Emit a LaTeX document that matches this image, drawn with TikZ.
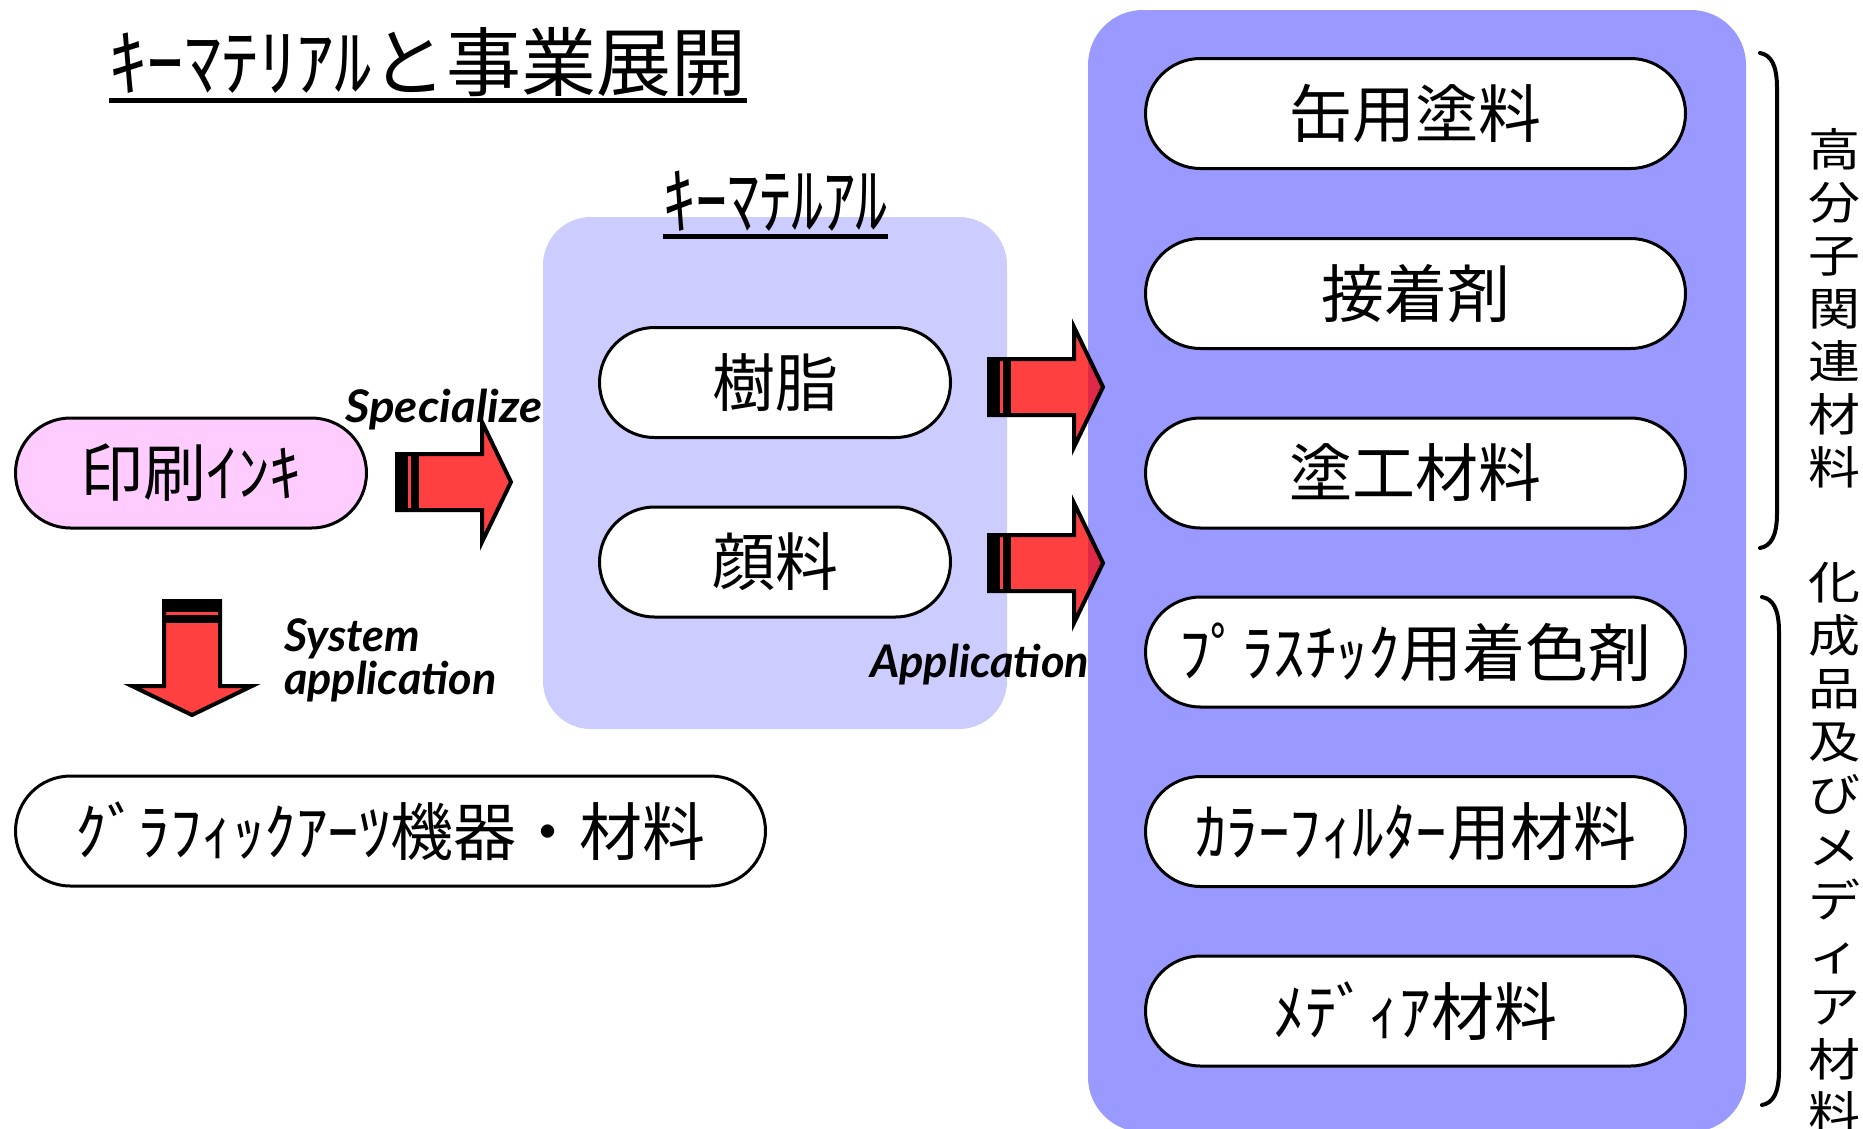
\documentclass[tikz,border=0pt]{standalone}
\usepackage{graphicx}
\usepackage{fontspec}
\newfontfamily\jp{Noto Sans CJK JP}
\newfontfamily\lat{Lato}
\definecolor{boxdark}{RGB}{153,153,255}
\definecolor{boxlight}{RGB}{204,204,255}
\definecolor{inkpink}{RGB}{255,204,255}
\definecolor{arrred}{RGB}{255,64,64}
\definecolor{arrdeep}{RGB}{224,40,72}
\newcommand\vsq[1]{\scalebox{1}[0.87]{#1}}
\tikzset{
  pill/.style={draw, line width=3pt, fill=white, rounded corners=55pt,
    minimum height=110pt, inner sep=0pt, font=\jp\fontsize{63}{70}\selectfont},
  heading/.style={inner sep=0pt, font=\jp\fontsize{75}{80}\selectfont},
  tag/.style={inner sep=0pt, font=\lat\bfseries\itshape\fontsize{45}{50}\selectfont},
  vtext/.style={inner sep=0pt, align=center, font=\jp\fontsize{52}{53}\selectfont},
  arrshape/.style={insert path={(0,-28) -- (85,-28) -- (85,-60) -- (114,0) -- (85,60) -- (85,28) -- (0,28) -- cycle}},
  arrline/.style={line width=4pt, line join=miter},
  bracket/.style={line width=4pt, line cap=round},
}
\newcommand\blockarr[1]{%
  \begin{scope}[#1]
    \fill[arrred, arrshape];
    \draw[arrline, arrshape];
    \fill (-2,-30) rectangle (11,30);
    \fill (14,-30) rectangle (22,30);
  \end{scope}}
\newcommand\blockarrdeep[1]{%
  \begin{scope}[#1]
    \fill[arrred, arrshape];
    \begin{scope}
      \clip (99,-80) rectangle (200,80);
      \fill[arrdeep, arrshape];
    \end{scope}
    \draw[arrline, arrshape];
    \fill (-2,-30) rectangle (11,30);
    \fill (14,-30) rectangle (22,30);
  \end{scope}}
\begin{document}
\begin{tikzpicture}[x=1pt, y=-1pt]
\useasboundingbox (0,0) rectangle (1863,1128);
\clip (0,0) rectangle (1863,1128);
\fill[white] (0,0) rectangle (1863,1128);

% background panels
\fill[boxdark, rounded corners=55pt] (1088,10) rectangle (1746,1132);
\fill[boxlight, rounded corners=48pt] (543,217) rectangle (1007,729);

% headings
\node[heading] (title) at (428,62.5) {\resizebox{637pt}{\height}{ｷｰﾏﾃﾘｱﾙと事業展開}};
\draw[line width=5pt] ([yshift=-3pt]title.south west) -- ([yshift=-3pt]title.south east);
\node[heading] (sub) at (775.5,201.5) {\resizebox{225pt}{\height}{ｷｰﾏﾃﾙｱﾙ}};
\draw[line width=5pt] ([yshift=-5pt]sub.south west) -- ([yshift=-5pt]sub.south east);

% block arrows
\blockarr{shift={(397,482)}}
\blockarr{shift={(192,601)}, rotate=-90}
\blockarrdeep{shift={(989,387)}}
\blockarrdeep{shift={(989,563)}}

% left column
\node[pill, fill=inkpink, minimum width=351pt] (ink) at (191,473) {印刷ｲﾝｷ};
\node[pill, minimum width=750pt] (graphic) at (390.5,831) {ｸﾞﾗﾌｨｯｸｱｰﾂ機器・材料};

% key materials
\node[pill, minimum width=351pt] (resin) at (775,382.5) {樹脂};
\node[pill, minimum width=351pt] (pigment) at (775,562) {顔料};

% applications
\node[pill, minimum width=540pt] (p1) at (1415.5,113.5) {缶用塗料};
\node[pill, minimum width=540pt] (p2) at (1415.5,293.5) {接着剤};
\node[pill, minimum width=540pt] (p3) at (1415.5,473) {塗工材料};
\node[pill, minimum width=540pt] (p4) at (1415.5,652) {ﾌﾟﾗｽﾁｯｸ用着色剤};
\node[pill, minimum width=540pt] (p5) at (1415.5,831.5) {ｶﾗｰﾌｨﾙﾀｰ用材料};
\node[pill, minimum width=540pt] (p6) at (1415.5,1011) {ﾒﾃﾞｨｱ材料};

% arrow labels
\node[tag, anchor=base west] (spec) at (345,422) {\resizebox{197pt}{\height}{Specialize}};
\node[tag, anchor=base west] (sys1) at (284,651) {System};
\node[tag, anchor=base west] (sys2) at (284,694) {application};
\node[tag, anchor=base west] (appl) at (870,677) {\resizebox{219pt}{\height}{Application}};

% brackets
\draw[bracket] (1760,53) .. controls (1771,55) and (1777,65) .. (1777,88)
  -- (1777,513) .. controls (1777,536) and (1771,546) .. (1760,548);
\draw[bracket] (1762,597) .. controls (1773,599) and (1779,609) .. (1779,632)
  -- (1779,1070) .. controls (1779,1093) and (1773,1103) .. (1762,1105);

% vertical group labels
\node[vtext, anchor=north] (g1) at (1834,128)
  {\vsq{高}\\\vsq{分}\\\vsq{子}\\\vsq{関}\\\vsq{連}\\\vsq{材}\\\vsq{料}};
\node[vtext, anchor=north] (g2) at (1834,562)
  {\vsq{化}\\\vsq{成}\\\vsq{品}\\\vsq{及}\\\vsq{び}\\\vsq{メ}\\\vsq{デ}\\\vsq{ィ}\\\vsq{ア}\\\vsq{材}\\\vsq{料}};
\end{tikzpicture}
\end{document}
